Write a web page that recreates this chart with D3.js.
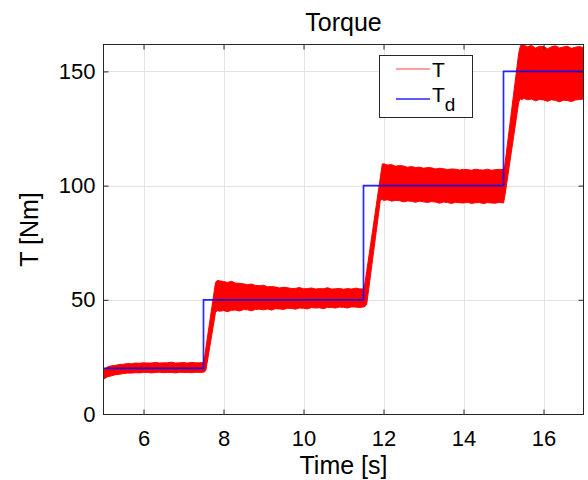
<!DOCTYPE html>
<html>
<head>
<meta charset="utf-8">
<script src="https://cdn.jsdelivr.net/npm/d3@7"></script>
<style>
  html, body { margin: 0; padding: 0; background: #fff; }
  svg { display: block; font-family: "Liberation Sans", Arial, Helvetica, sans-serif; }
</style>
</head>
<body>
<svg id="chart" width="588" height="480"></svg>
<script>
// ---- data ----
const titleText = "Torque";
const xLabelText = "Time [s]";
const yLabelText = "T [Nm]";
const xTicks = [6, 8, 10, 12, 14, 16];
const yTicks = [0, 50, 100, 150];
const xDomain = [5, 17];
const yDomain = [0, 162];

// measured torque T: envelope of the fast oscillation (upper / lower) vs time
const tTime = [
  5.0, 5.1, 5.2, 5.3, 5.4, 5.5, 5.6, 5.7, 5.8, 5.9, 6.0, 6.1, 6.2, 6.3, 6.4, 6.5, 6.6, 6.7, 6.8, 6.9, 7.0, 7.1, 7.2, 7.3, 7.4, 7.5,
  7.53, 7.56, 7.8, 7.85,
  7.9, 8.0, 8.1, 8.2, 8.3, 8.4, 8.5, 8.6, 8.7, 8.8, 8.9, 9.0, 9.1, 9.2, 9.3, 9.4, 9.5, 9.6, 9.7, 9.8, 9.9, 10.0,
  10.1, 10.2, 10.3, 10.4, 10.5, 10.6, 10.7, 10.8, 10.9, 11.0, 11.1, 11.2, 11.3, 11.4, 11.5,
  11.53, 11.58, 11.92, 11.97,
  12.0, 12.1, 12.2, 12.3, 12.4, 12.5, 12.6, 12.7, 12.8, 12.9, 13.0, 13.1, 13.2, 13.3, 13.4, 13.5, 13.6, 13.7, 13.8, 13.9,
  14.0, 14.1, 14.2, 14.3, 14.4, 14.5, 14.6, 14.7, 14.8, 14.9, 15.0,
  15.03, 15.38, 15.42, 15.46,
  15.5, 15.6, 15.7, 15.8, 15.9, 16.0, 16.1, 16.2, 16.3, 16.4, 16.5, 16.6, 16.7, 16.8, 16.9, 17.0
];
const tUpper = [
  19.3, 20.6, 21.1, 21.3, 21.7, 21.8, 22.1, 22.0, 22.3, 22.2, 22.4, 22.3, 22.3, 22.6, 22.3, 22.4, 22.4, 22.7, 22.3, 22.4, 22.5, 22.3, 22.6, 22.4, 22.4, 22.5,
  25.0, 29.0, 57.5, 58.6,
  58.3, 58.0, 57.6, 58.1, 57.3, 57.2, 57.0, 56.6, 56.9, 56.3, 56.2, 56.4, 55.7, 55.8, 55.6, 55.2, 55.5, 55.3, 54.9, 55.0, 55.4, 54.8,
  54.9, 55.2, 54.7, 54.9, 54.8, 55.3, 54.7, 54.8, 55.0, 54.6, 54.9, 54.7, 55.1, 54.8, 54.7,
  56.5, 62.5, 103.5, 109.5,
  109.6, 109.0, 109.2, 108.5, 108.8, 108.6, 108.0, 108.4, 107.9, 108.1, 107.6, 107.9, 107.8, 107.3, 107.6, 107.4, 107.0, 107.3, 107.2, 106.8,
  107.1, 107.0, 106.7, 107.2, 106.9, 106.8, 107.2, 106.7, 107.0, 107.1, 107.0,
  108.5, 158.0, 161.0, 162.0,
  161.5, 160.8, 161.4, 160.2, 161.0, 160.9, 159.9, 160.8, 161.2, 160.3, 160.7, 161.0, 160.1, 160.6, 160.9, 160.4
];
const tLower = [
  15.2, 16.3, 16.7, 17.2, 17.4, 17.7, 17.9, 17.9, 18.1, 18.0, 18.2, 18.2, 18.0, 18.2, 18.3, 18.1, 18.2, 18.2, 18.0, 18.3, 18.2, 18.2, 18.1, 18.3, 18.2, 18.3,
  18.5, 19.2, 44.5, 45.3,
  45.0, 45.3, 44.8, 45.4, 45.5, 45.1, 45.7, 45.6, 45.2, 45.8, 45.9, 45.6, 46.0, 45.5, 46.1, 46.0, 45.8, 46.3, 46.2, 45.9, 46.4, 46.3,
  46.0, 46.6, 46.4, 46.5, 46.1, 46.7, 46.6, 46.4, 46.8, 46.7, 46.4, 46.9, 46.8, 46.6, 46.9,
  47.0, 48.0, 93.5, 94.0,
  93.5, 93.8, 93.2, 93.5, 93.4, 92.9, 93.3, 93.1, 92.7, 93.2, 92.9, 92.6, 93.0, 92.8, 92.3, 92.8, 92.6, 92.2, 92.7, 92.5,
  92.4, 92.7, 92.2, 92.5, 92.6, 92.1, 92.6, 92.4, 92.3, 92.7, 92.4,
  95.0, 136.5, 138.0, 137.5,
  138.2, 137.6, 137.9, 137.1, 137.7, 137.5, 136.9, 137.6, 137.3, 136.7, 137.4, 137.2, 136.8, 137.5, 137.7, 137.9
];

// desired torque T_d (step reference)
const tdTime = [5, 7.5, 11.5, 15, 17];
const tdValue = [20, 50, 100, 150, 150];

const legendLabels = ["T", "T", "d"];

// ---- layout ----
const svg = d3.select("#chart");
const L = 103.5, R = 583.5, T = 44.5, B = 414.5;
const x = d3.scaleLinear().domain(xDomain).range([L, R]);
const y = d3.scaleLinear().domain(yDomain).range([B - 0.5, T - 0.5]);
const axisColor = "#262626";
const blue = "#0000ff";

svg.append("defs").append("clipPath").attr("id", "clip")
  .append("rect").attr("x", L).attr("y", T).attr("width", R - L).attr("height", B - T);

// grid
const grid = svg.append("g").attr("stroke", "#e3e3e3").attr("stroke-width", 1);
xTicks.forEach(v => grid.append("line")
  .attr("x1", Math.round(x(v)) + 0.5).attr("x2", Math.round(x(v)) + 0.5)
  .attr("y1", T).attr("y2", B));
yTicks.forEach(v => grid.append("line")
  .attr("y1", Math.round(y(v)) + 0.5).attr("y2", Math.round(y(v)) + 0.5)
  .attr("x1", L).attr("x2", R));

// data
const plot = svg.append("g").attr("clip-path", "url(#clip)");
const tData = tTime.map((t, i) => ({ t, hi: tUpper[i], lo: tLower[i] }));
plot.append("path")
  .datum(tData)
  .attr("fill", "#ff0000")
  .attr("stroke", "#ff0000")
  .attr("stroke-width", 1)
  .attr("d", d3.area().x(d => x(d.t)).y0(d => y(d.lo)).y1(d => y(d.hi)));

const tdData = tdTime.map((t, i) => ({ t, v: tdValue[i] }));
plot.append("path")
  .datum(tdData)
  .attr("fill", "none")
  .attr("stroke", blue)
  .attr("stroke-width", 1.7)
  .attr("stroke-opacity", 0.85)
  .attr("d", d3.line().x(d => x(d.t)).y(d => y(d.v)).curve(d3.curveStepAfter));

// axes (ticks inside, box on all sides)
const fmt = d3.format("d");
const gB = svg.append("g").attr("transform", `translate(0,${B})`)
  .call(d3.axisBottom(x).tickValues(xTicks).tickSize(-5).tickPadding(16).tickFormat(fmt));
const gT = svg.append("g").attr("transform", `translate(0,${T})`)
  .call(d3.axisTop(x).tickValues(xTicks).tickSize(-5).tickFormat(""));
const gL = svg.append("g").attr("transform", `translate(${L},0)`)
  .call(d3.axisLeft(y).tickValues(yTicks).tickSize(-5).tickPadding(8).tickFormat(fmt));
const gR = svg.append("g").attr("transform", `translate(${R},0)`)
  .call(d3.axisRight(y).tickValues(yTicks).tickSize(-5).tickFormat(""));
[gB, gT, gL, gR].forEach(g => {
  g.select(".domain").remove();
  g.selectAll("line").attr("stroke", axisColor);
  g.selectAll("text").attr("fill", "#000").style("font-size", "22px")
    .style("font-family", "'Liberation Sans', Arial, sans-serif");
});
svg.append("rect").attr("x", L).attr("y", T).attr("width", R - L).attr("height", B - T)
  .attr("fill", "none").attr("stroke", axisColor).attr("stroke-width", 1);

// titles
svg.append("text").attr("x", (L + R) / 2).attr("y", 31).attr("text-anchor", "middle")
  .style("font-size", "25px").attr("fill", "#000").text(titleText);
svg.append("text").attr("x", (L + R) / 2).attr("y", 474).attr("text-anchor", "middle")
  .style("font-size", "25px").attr("fill", "#000").text(xLabelText);
svg.append("text").attr("transform", `translate(38,${(T + B) / 2}) rotate(-90)`)
  .attr("text-anchor", "middle").style("font-size", "25px").attr("fill", "#000").text(yLabelText);

// legend
const lg = svg.append("g");
lg.append("rect").attr("x", 379.5).attr("y", 55.5).attr("width", 93).attr("height", 62)
  .attr("fill", "#fff").attr("stroke", axisColor).attr("stroke-width", 1);
lg.append("line").attr("x1", 396).attr("x2", 430).attr("y1", 69).attr("y2", 69)
  .attr("stroke", "#ff0000").attr("stroke-width", 1.2).attr("stroke-opacity", 0.75);
lg.append("text").attr("x", 432).attr("y", 77).style("font-size", "21px").attr("fill", "#000")
  .text(legendLabels[0]);
lg.append("line").attr("x1", 396).attr("x2", 430).attr("y1", 99).attr("y2", 99)
  .attr("stroke", blue).attr("stroke-width", 1.7).attr("stroke-opacity", 0.85);
const t2 = lg.append("text").attr("x", 432).attr("y", 102).style("font-size", "21px").attr("fill", "#000");
t2.append("tspan").text(legendLabels[1]);
t2.append("tspan").attr("dy", 9).style("font-size", "19px").text(legendLabels[2]);
</script>
</body>
</html>
